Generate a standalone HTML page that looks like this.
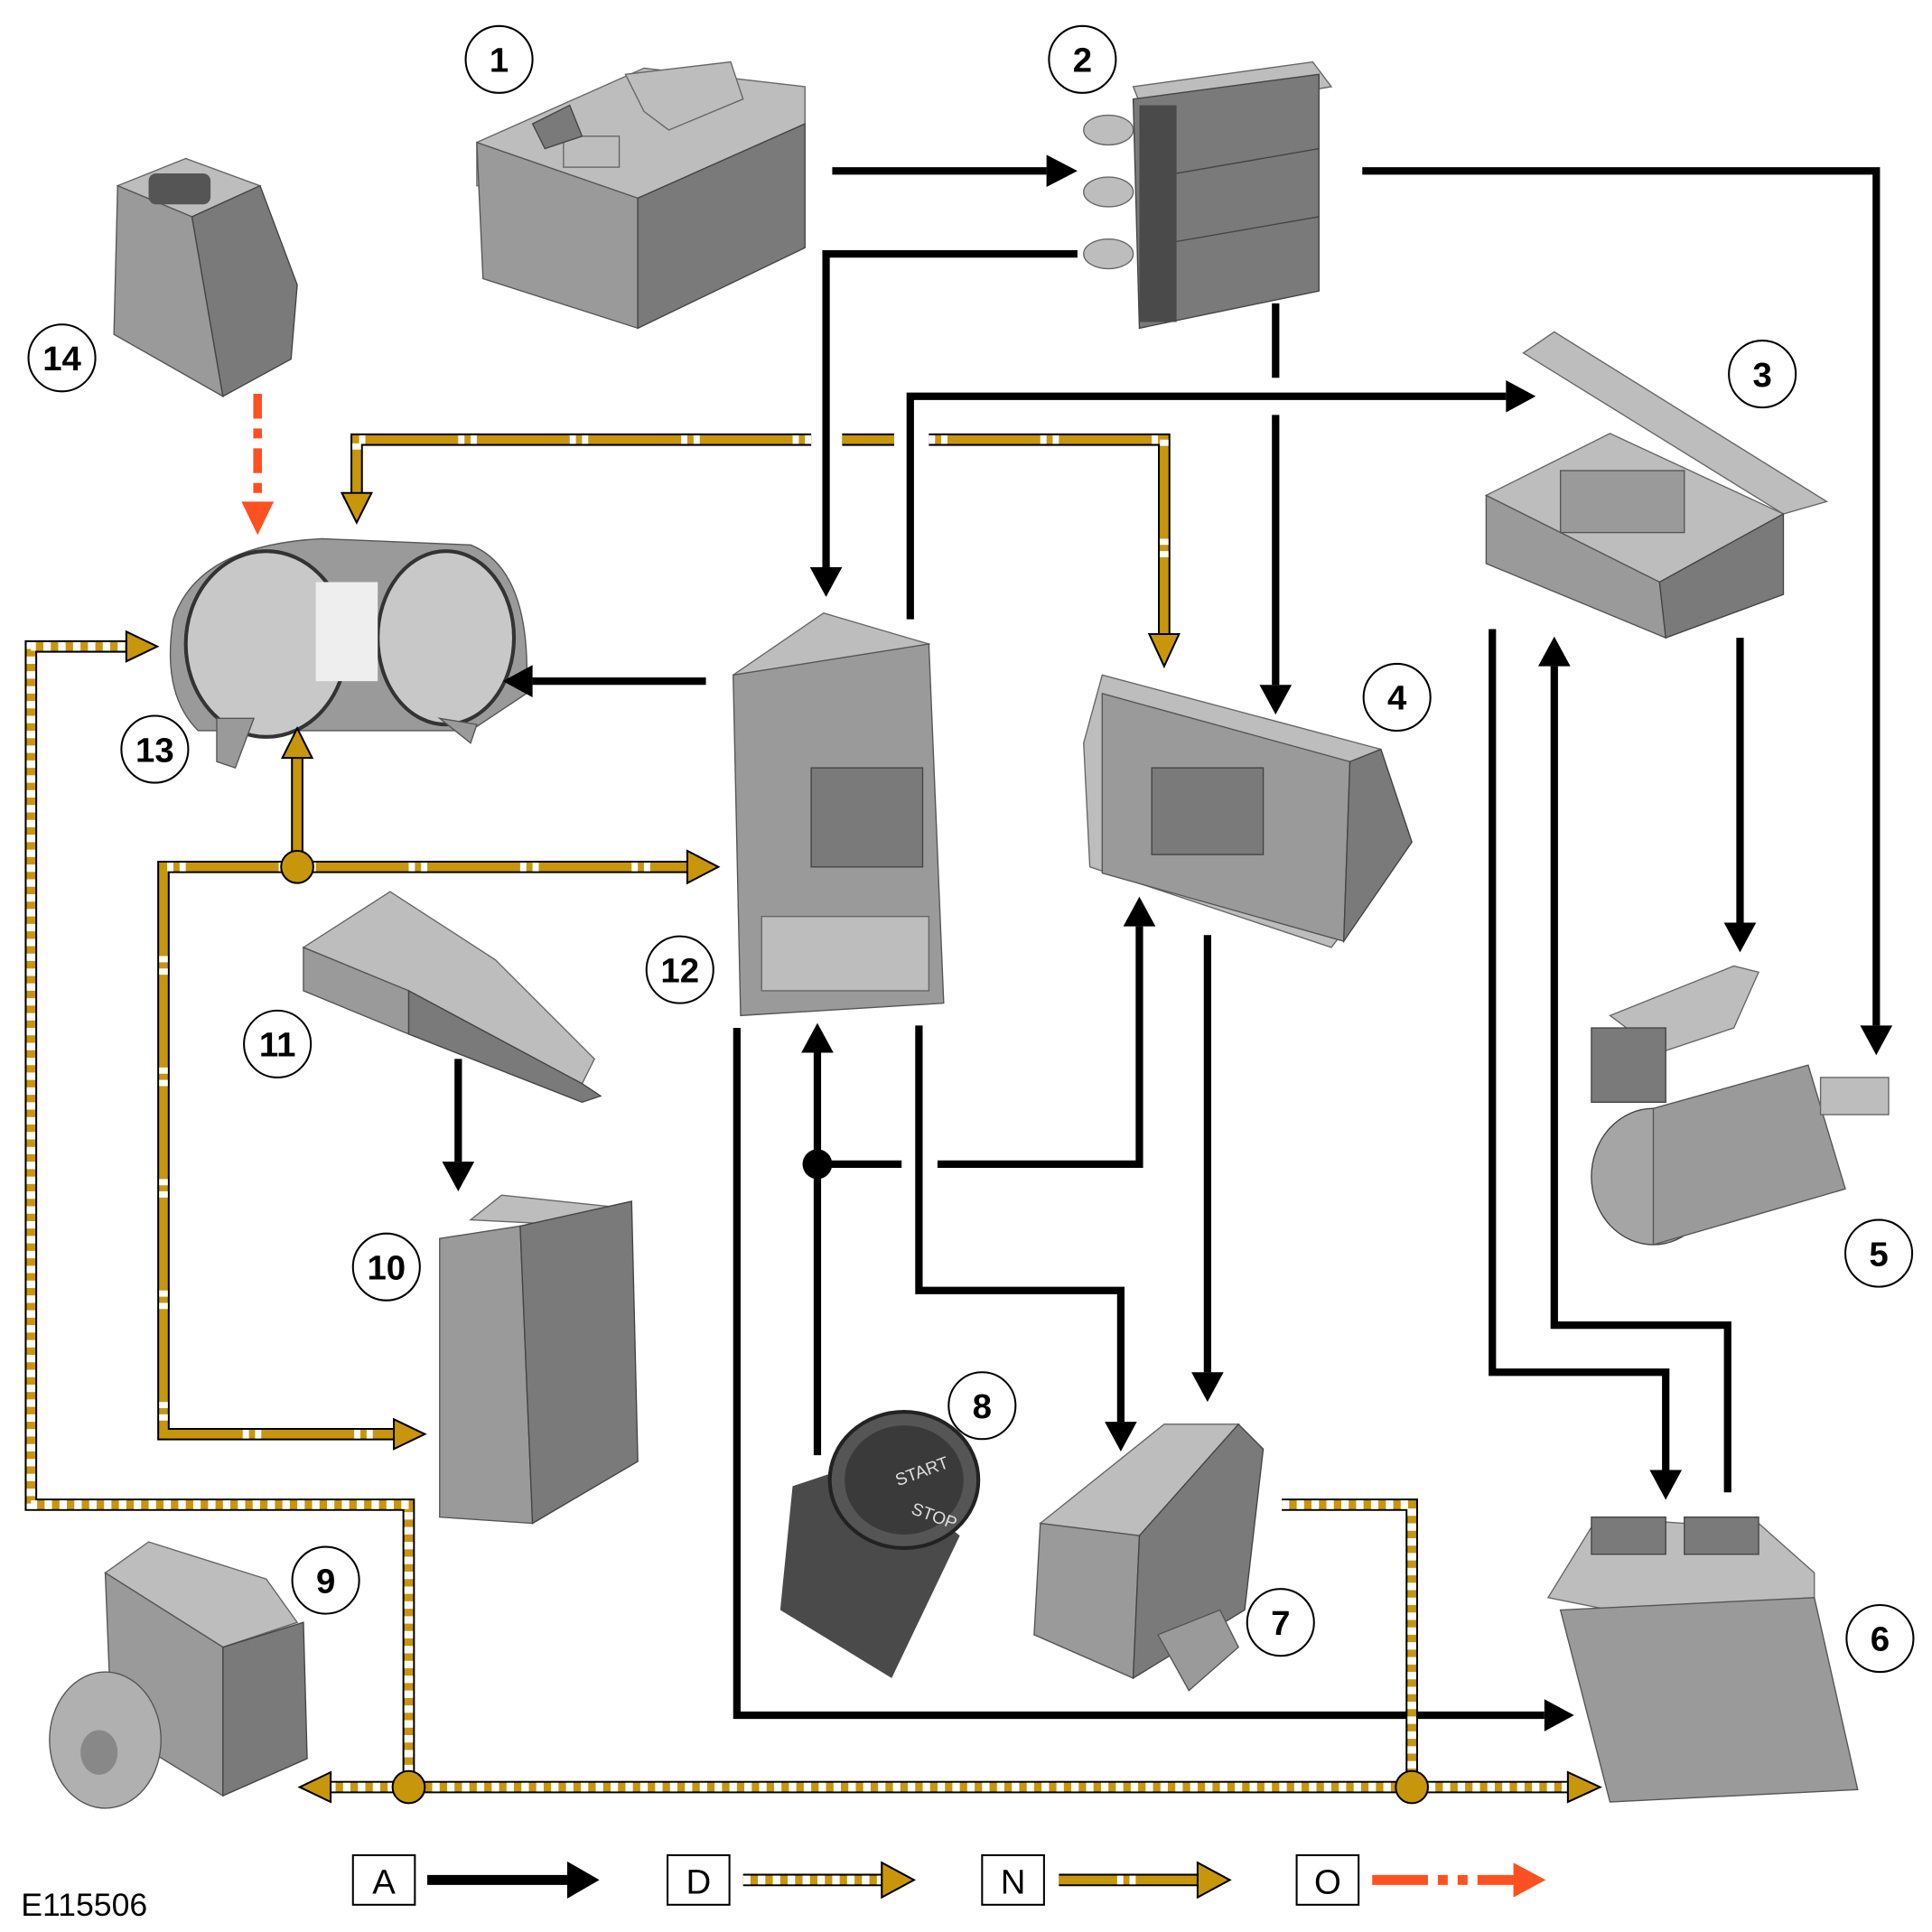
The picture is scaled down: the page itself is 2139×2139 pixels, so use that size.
<!DOCTYPE html>
<html><head><meta charset="utf-8"><style>
html,body{margin:0;padding:0;background:#fff}
svg{display:block}
.b{fill:none;stroke:#000;stroke-width:6}
.go{fill:none;stroke:#000;stroke-width:10}
.gi{fill:none;stroke:#c8960a;stroke-width:7}
.dd{fill:none;stroke:#fff;stroke-width:7;stroke-dasharray:6 6}
.dn{fill:none;stroke:#fff;stroke-width:7;stroke-dasharray:5 5 5 75}
.ga{fill:#c8960a;stroke:#000;stroke-width:1.5}
.lab circle{fill:#fff;stroke:#000;stroke-width:1.5}
.lab text{font-family:"Liberation Sans",sans-serif;font-size:28px;font-weight:bold;text-anchor:middle}
.c1{fill:#9a9a9a;stroke:#555;stroke-width:1}
.c2{fill:#7a7a7a;stroke:#444;stroke-width:1}
.c3{fill:#bdbdbd;stroke:#666;stroke-width:1}
.c4{fill:#4a4a4a}
</style></head><body>
<svg width="2139" height="2139" viewBox="0 0 1560 1560" xmlns="http://www.w3.org/2000/svg">
<!-- 1 battery -->
<g>
<polygon class="c3" points="385,115 520,55 650,70 650,100 515,160 385,150"/>
<polygon class="c1" points="385,115 515,160 515,265 390,225"/>
<polygon class="c2" points="515,160 650,100 650,200 515,265"/>
<polygon class="c3" points="505,60 590,50 600,80 540,105 520,90"/>
<rect x="455" y="110" width="45" height="25" class="c3"/>
<polygon points="430,100 460,85 470,110 440,120" class="c2"/>
</g>
<!-- 2 fuse block -->
<g>
<polygon class="c3" points="915,70 1060,50 1075,70 925,95"/>
<polygon class="c2" points="915,80 1065,60 1065,235 920,265"/>
<rect x="920" y="85" width="30" height="175" class="c4"/>
<ellipse cx="895" cy="105" rx="20" ry="12" class="c3"/>
<ellipse cx="895" cy="155" rx="20" ry="12" class="c3"/>
<ellipse cx="895" cy="205" rx="20" ry="12" class="c3"/>
<line x1="950" y1="140" x2="1065" y2="120" stroke="#444"/>
<line x1="950" y1="195" x2="1065" y2="175" stroke="#444"/>
</g>
<!-- 3 box -->
<g>
<polygon class="c3" points="1230,285 1255,268 1475,405 1440,415"/>
<polygon class="c3" points="1200,400 1300,350 1440,415 1340,470"/>
<polygon class="c1" points="1200,400 1340,470 1345,515 1200,455"/>
<polygon class="c2" points="1340,470 1440,415 1440,480 1345,515"/>
<rect x="1260" y="380" width="100" height="50" class="c1"/>
</g>
<!-- 4 box -->
<g>
<polygon class="c3" points="890,545 1115,605 1140,680 1075,765 880,700 875,600"/>
<polygon class="c1" points="890,560 1090,615 1085,760 890,705"/>
<polygon class="c2" points="1090,615 1115,605 1140,680 1085,760"/>
<rect x="930" y="620" width="90" height="70" class="c2"/>
</g>
<!-- 12 box -->
<g>
<polygon class="c3" points="592,545 665,495 750,520 600,565"/>
<polygon class="c1" points="592,545 750,520 762,810 598,820"/>
<rect x="655" y="620" width="90" height="80" class="c2"/>
<rect x="615" y="740" width="135" height="60" class="c3"/>
</g>
<!-- 13 cluster -->
<g>
<path class="c1" d="M140,500 Q160,440 260,435 L380,440 Q430,460 425,560 L380,590 L160,590 Q130,560 140,500Z"/>
<ellipse cx="215" cy="520" rx="65" ry="75" fill="#c8c8c8" stroke="#333" stroke-width="3"/>
<ellipse cx="360" cy="515" rx="55" ry="70" fill="#c8c8c8" stroke="#333" stroke-width="3"/>
<rect x="255" y="470" width="50" height="80" fill="#eee"/>
<polygon class="c1" points="175,580 205,580 190,620 175,615"/>
<polygon class="c1" points="355,580 385,585 380,600"/>
</g>
<!-- 14 -->
<g>
<polygon class="c3" points="95,150 150,128 210,150 155,175"/>
<polygon class="c1" points="95,150 155,175 180,320 92,270"/>
<polygon class="c2" points="155,175 210,150 240,230 235,290 180,320"/>
<rect x="120" y="140" width="50" height="25" rx="6" fill="#555"/>
</g>
<!-- 11 -->
<g>
<polygon class="c3" points="245,765 315,720 400,775 480,855 470,875 330,800"/>
<polygon class="c1" points="245,765 330,800 330,835 245,800"/>
<polygon class="c2" points="330,800 470,875 485,885 470,890 330,835"/>
</g>
<!-- 10 -->
<g>
<polygon class="c3" points="380,985 405,965 500,975 480,990"/>
<polygon class="c1" points="355,1000 420,990 430,1230 355,1225"/>
<polygon class="c2" points="420,990 510,970 515,1180 430,1230"/>
</g>
<!-- 9 ABS -->
<g>
<polygon class="c3" points="85,1270 120,1245 215,1275 240,1310 180,1330"/>
<polygon class="c1" points="85,1270 180,1330 180,1450 90,1395"/>
<polygon class="c2" points="180,1330 245,1310 248,1420 180,1450"/>
<ellipse cx="85" cy="1405" rx="45" ry="55" fill="#b0b0b0" stroke="#555"/>
<ellipse cx="80" cy="1415" rx="15" ry="18" fill="#888"/>
</g>
<!-- 8 start button -->
<g>
<polygon class="c4" points="640,1200 700,1180 775,1240 720,1355 630,1300"/>
<ellipse cx="730" cy="1195" rx="60" ry="55" fill="#555" stroke="#222" stroke-width="3"/>
<ellipse cx="730" cy="1195" rx="48" ry="44" fill="#3a3a3a"/>
<text x="725" y="1200" fill="#ddd" font-family="Liberation Sans,sans-serif" font-size="14" transform="rotate(-20 725 1200)">START</text>
<text x="735" y="1222" fill="#ddd" font-family="Liberation Sans,sans-serif" font-size="14" transform="rotate(20 735 1222)">STOP</text>
</g>
<!-- 7 -->
<g>
<polygon class="c3" points="840,1230 940,1150 1000,1150 920,1240"/>
<polygon class="c1" points="840,1230 920,1240 915,1355 835,1320"/>
<polygon class="c2" points="920,1240 1000,1150 1020,1170 1005,1300 915,1355"/>
<polygon class="c1" points="935,1320 985,1300 1000,1330 960,1365"/>
</g>
<!-- 6 ECM -->
<g>
<polygon class="c3" points="1250,1290 1290,1225 1360,1230 1420,1230 1465,1270 1465,1290 1300,1300"/>
<polygon class="c1" points="1260,1300 1465,1290 1500,1445 1300,1455"/>
<rect x="1285" y="1225" width="60" height="30" class="c2"/>
<rect x="1360" y="1225" width="60" height="30" class="c2"/>
</g>
<!-- 5 starter -->
<g>
<polygon class="c3" points="1300,820 1400,780 1420,785 1400,830 1340,850"/>
<ellipse cx="1335" cy="950" rx="50" ry="55" fill="#a5a5a5" stroke="#444"/>
<polygon class="c1" points="1335,895 1460,860 1490,960 1335,1005"/>
<rect x="1285" y="830" width="60" height="60" class="c2"/>
<rect x="1470" y="870" width="55" height="30" class="c3"/>
</g>

<!-- Black connectors -->
<g>
<path class="b" d="M672,138 H845"/><polygon points="845,125 870,138 845,151"/>
<path class="b" d="M1100,138 H1515 V828"/><polygon points="1502,828 1515,852 1528,828"/>
<path class="b" d="M870,205 H667 V458"/><polygon points="654,458 667,482 680,458"/>
<path class="b" d="M1030,245 V305 M1030,335 V553"/><polygon points="1017,553 1030,577 1043,553"/>
<path class="b" d="M735,500 V320 H1216"/><polygon points="1216,307 1240,320 1216,333"/>
<path class="b" d="M570,550 H430"/><polygon points="430,537 406,550 430,563"/>
<path class="b" d="M1405,515 V745"/><polygon points="1392,745 1405,769 1418,745"/>
<path class="b" d="M1205,508 V1108 H1345 V1187"/><polygon points="1332,1187 1345,1211 1358,1187"/>
<path class="b" d="M1395,1205 V1070 H1255 V538"/><polygon points="1242,538 1255,514 1268,538"/>
<path class="b" d="M595,830 V1385 H1247"/><polygon points="1247,1372 1271,1385 1247,1398"/>
<path class="b" d="M742,828 V1042 H905 V1148"/><polygon points="892,1148 905,1172 918,1148"/>
<path class="b" d="M975,755 V1108"/><polygon points="962,1108 975,1132 988,1108"/>
<path class="b" d="M660,1175 V850"/><polygon points="647,850 660,826 673,850"/>
<path class="b" d="M660,940 H728 M757,940 H920 V748"/><polygon points="907,748 920,724 933,748"/>
<circle cx="660" cy="940" r="12" fill="#000"/>
<path class="b" d="M370,855 V938"/><polygon points="357,938 370,962 383,938"/>
</g>
<path d="M208,318 V405" stroke="#ff5022" stroke-width="7" fill="none" stroke-dasharray="20 8 8 8"/>
<polygon points="195,405 208,432 221,405" fill="#ff5022"/>

<!-- Gold connectors -->
<path class="go" d="M655,355 H288 V398"/><path class="gi" d="M655,355 H288 V398"/><path class="dn" d="M655,355 H288 V398"/>
<path class="go" d="M680,355 H722 M750,355 H940 V512"/><path class="gi" d="M680,355 H722 M750,355 H940 V512"/><path class="dn" d="M750,355 H940 V512"/>
<polygon class="ga" points="276,398 288,422 300,398"/>
<polygon class="ga" points="928,512 940,538 952,512"/>
<path class="go" d="M240,700 V612 M240,700 H555 M240,700 H132 V1158 H318"/>
<path class="gi" d="M240,700 V612 M240,700 H555 M240,700 H132 V1158 H318"/>
<path class="dn" d="M240,700 H555 M240,700 H132 V1158 H318"/>
<polygon class="ga" points="228,612 240,588 252,612"/>
<polygon class="ga" points="555,687 580,700 555,713"/>
<polygon class="ga" points="318,1146 343,1158 318,1170"/>
<circle cx="240" cy="700" r="13" class="ga"/>
<path class="go" d="M330,1443 V1215 H25 V522 H102"/><path class="gi" d="M330,1443 V1215 H25 V522 H102"/><path class="dd" d="M330,1443 V1215 H25 V522 H102"/>
<polygon class="ga" points="102,510 127,522 102,534"/>
<path class="go" d="M265,1443 H1268"/><path class="gi" d="M265,1443 H1268"/><path class="dd" d="M265,1443 H1268"/>
<polygon class="ga" points="267,1431 242,1443 267,1455"/>
<polygon class="ga" points="1266,1431 1292,1443 1266,1455"/>
<path class="go" d="M1035,1215 H1140 V1443"/><path class="gi" d="M1035,1215 H1140 V1443"/><path class="dd" d="M1035,1215 H1140 V1443"/>
<circle cx="330" cy="1443" r="13" class="ga"/>
<circle cx="1140" cy="1443" r="13" class="ga"/>

<!-- Labels -->
<g class="lab">
<circle cx="403" cy="48" r="27"/><text x="403" y="58">1</text>
<circle cx="874" cy="48" r="27"/><text x="874" y="58">2</text>
<circle cx="1423" cy="302" r="27"/><text x="1423" y="312">3</text>
<circle cx="1128" cy="563" r="27"/><text x="1128" y="573">4</text>
<circle cx="1517" cy="1012" r="27"/><text x="1517" y="1022">5</text>
<circle cx="1518" cy="1323" r="27"/><text x="1518" y="1333">6</text>
<circle cx="1034" cy="1310" r="27"/><text x="1034" y="1320">7</text>
<circle cx="793" cy="1135" r="27"/><text x="793" y="1145">8</text>
<circle cx="263" cy="1276" r="27"/><text x="263" y="1286">9</text>
<circle cx="312" cy="1023" r="27"/><text x="312" y="1033">10</text>
<circle cx="224" cy="843" r="27"/><text x="224" y="853">11</text>
<circle cx="549" cy="783" r="27"/><text x="549" y="793">12</text>
<circle cx="125" cy="605" r="27"/><text x="125" y="615">13</text>
<circle cx="50" cy="289" r="27"/><text x="50" y="299">14</text>
</g>

<!-- Legend -->
<g font-family="Liberation Sans,sans-serif" font-size="28" text-anchor="middle">
<rect x="285" y="1498" width="50" height="40" fill="#fff" stroke="#000" stroke-width="1.5"/><text x="310" y="1529">A</text>
<path d="M345,1518 H460" stroke="#000" stroke-width="8"/><polygon points="458,1503 484,1518 458,1533"/>
<rect x="539" y="1498" width="50" height="40" fill="#fff" stroke="#000" stroke-width="1.5"/><text x="564" y="1529">D</text>
<path class="go" d="M600,1518 H712"/><path class="gi" d="M600,1518 H712"/><path class="dd" d="M600,1518 H712"/>
<polygon class="ga" points="712,1504 738,1518 712,1532"/>
<rect x="793" y="1498" width="50" height="40" fill="#fff" stroke="#000" stroke-width="1.5"/><text x="818" y="1529">N</text>
<path class="go" d="M855,1518 H967"/><path class="gi" d="M855,1518 H967"/><path d="M902,1518 h5 m5,0 h5" stroke="#fff" stroke-width="7"/>
<polygon class="ga" points="967,1504 993,1518 967,1532"/>
<rect x="1047" y="1498" width="50" height="40" fill="#fff" stroke="#000" stroke-width="1.5"/><text x="1072" y="1529">O</text>
<path d="M1108,1518 H1222" stroke="#ff5022" stroke-width="8" stroke-dasharray="45 8 8 8 8 8"/>
<polygon points="1222,1504 1248,1518 1222,1532" fill="#ff5022"/>
<text x="68" y="1547" font-size="26" font-weight="normal">E115506</text>
</g>
</svg>
</body></html>
